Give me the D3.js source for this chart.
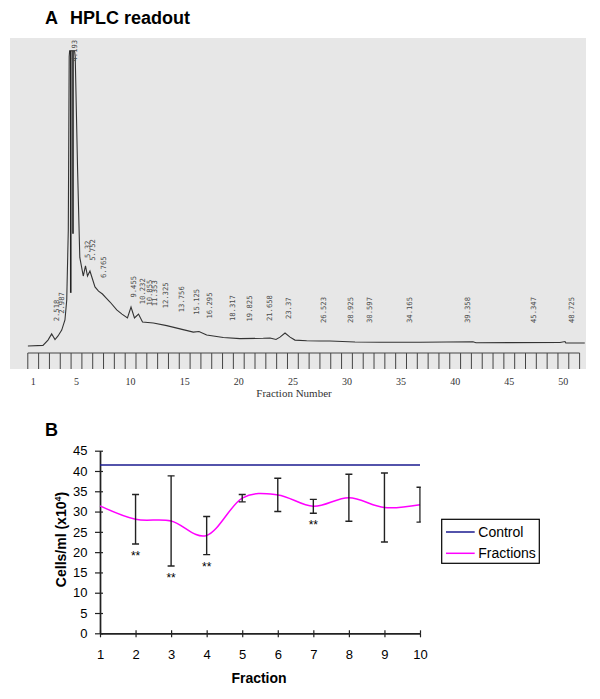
<!DOCTYPE html>
<html><head><meta charset="utf-8">
<script src="https://cdn.jsdelivr.net/npm/d3@7"></script>
<style>body{margin:0;background:#fff}</style>
</head><body>
<svg id="chart" width="600" height="699"></svg>
<script>
// ---------- Panel A: HPLC readout ----------
const traceTime = [0.0,1.35,1.8,2.13,2.43,2.7,3.03,3.32,3.48,3.62,3.70,3.74,4.18,4.24,4.45,4.65,4.96,5.16,5.34,5.56,6.01,6.33,6.68,7.0,7.36,7.96,8.43,8.92,9.24,9.55,9.91,10.27,11.24,12.44,13.63,14.82,15.33,16.02,17.51,19.0,21.09,21.7,22.23,22.59,23.04,23.49,23.93,24.98,26.17,27.07,29.31,31.55,35.13,39.88,40.15,47.68,48.13,48.2,49.9];
const traceSignal = [0,0.2,2.0,4.1,2.2,3.4,5.4,8.8,15.6,39.3,98,100,100,98,60,30,23.7,27.1,23.7,25.4,20,18.6,17.6,16.3,14.9,12.2,10.8,9.5,13.2,9.5,10.8,8.1,7.8,6.9,5.8,4.7,4.9,3.7,2.9,2.5,2.6,2.7,2.2,3.0,4.4,3.0,2.0,1.8,1.7,1.7,1.35,1.25,1.25,1.45,1.1,1.2,1.5,1.0,1.0];
const peakLabels = ["2.518","2.987","4.193","5.32","5.752","6.765","9.455","10.232","10.855","11.353","12.325","13.756","15.125","16.295","18.317","19.825","21.658","23.37","26.523","28.925","30.597","34.165","39.358","45.347","48.725"];
const markerTimes = [3.84, 4.04];
const markerBottoms = [18, 38];
const rulerLabels = [1,5,10,15,20,25,30,35,40,45,50];
const rulerCount = 51;

// ---------- Panel B: cell counts ----------
const fractions = [1,2,3,4,5,6,7,8,9,10];
const controlValue = 41.5;
const fractionMeans = [31.4,28.1,27.7,24.1,33.3,34.1,31.3,33.4,31.0,31.7];
const fractionSD = [0,6.1,11.1,4.7,0.9,4.1,1.7,5.8,8.5,4.3];
const significant = [2,3,4,7];
const yTicks = [0,5,10,15,20,25,30,35,40,45];

const svg = d3.select("#chart");
const sans = "'Liberation Sans', Arial, sans-serif";

// ===== Panel A =====
svg.append("text").attr("x",45).attr("y",24).attr("font-family",sans)
  .attr("font-weight","bold").attr("font-size",18).attr("fill","#000").text("A");
svg.append("text").attr("x",70).attr("y",24).attr("font-family",sans)
  .attr("font-weight","bold").attr("font-size",18).attr("fill","#000").text("HPLC readout");

const scan = {x0:10, x1:586, y0:38, y1:369};
svg.append("rect").attr("x",scan.x0).attr("y",scan.y0)
  .attr("width",scan.x1-scan.x0).attr("height",scan.y1-scan.y0).attr("fill","#e7e7e7");

const xT = d3.scaleLinear().domain([0,50]).range([27.9,585.9]);
const yS = d3.scaleLinear().domain([0,100]).range([346,50.7]);
const interp = d3.scaleLinear().domain(traceTime).range(traceSignal);

const gA = svg.append("g");
gA.append("path")
  .attr("d", d3.line().x((d,i)=>xT(traceTime[i])).y((d,i)=>yS(traceSignal[i]))(traceTime))
  .attr("fill","none").attr("stroke","#333").attr("stroke-width",1.1);

markerTimes.forEach((t,i)=>{
  gA.append("line").attr("x1",xT(t)).attr("x2",xT(t))
    .attr("y1",yS(100)).attr("y2",yS(markerBottoms[i]))
    .attr("stroke","#222").attr("stroke-width",1.6);
});

gA.selectAll("text.peak").data(peakLabels).join("text").attr("class","peak")
  .attr("font-family","'DejaVu Sans Mono', monospace").attr("font-size",7.2)
  .attr("fill","#4a4a4a").attr("dominant-baseline","central")
  .attr("transform", d=>{
    const t = +d;
    const len = d.length*4.3;
    let b = Math.min(yS(interp(t)) - 17, 323);
    b = Math.max(b, scan.y0 + 2 + len);
    return `translate(${xT(t)},${b}) rotate(-90)`;
  })
  .text(d=>d);

// ruler
const xF = d3.scaleLinear().domain([0.5,51.5]).range([27.8,579.6]);
const rulerTop = 353, rulerBottom = 369;
gA.append("line").attr("x1",xF(0.5)).attr("x2",xF(rulerCount+0.5))
  .attr("y1",rulerTop).attr("y2",rulerTop).attr("stroke","#444").attr("stroke-width",1);
gA.selectAll("line.rt").data(d3.range(0.5, rulerCount+1, 1)).join("line").attr("class","rt")
  .attr("x1",d=>xF(d)).attr("x2",d=>xF(d)).attr("y1",rulerTop).attr("y2",rulerBottom)
  .attr("stroke","#444").attr("stroke-width",1);
gA.selectAll("text.rl").data(rulerLabels).join("text").attr("class","rl")
  .attr("x",d=>xF(d)).attr("y",384.5).attr("text-anchor","middle")
  .attr("font-family","'Liberation Serif', 'Times New Roman', serif").attr("font-size",10)
  .attr("fill","#333").text(d=>d);
gA.append("text").attr("x",294).attr("y",396.5).attr("text-anchor","middle")
  .attr("font-family","'Liberation Serif', 'Times New Roman', serif").attr("font-size",11)
  .attr("fill","#333").text("Fraction Number");

// ===== Panel B =====
svg.append("text").attr("x",45).attr("y",436).attr("font-family",sans)
  .attr("font-weight","bold").attr("font-size",18).attr("fill","#000").text("B");

const x = d3.scaleLinear().domain([1,10]).range([100,420]);
const y = d3.scaleLinear().domain([0,45]).range([633.3,450.7]);
const gB = svg.append("g");

// axes
const axCol = "#222";
const yAxOut = gB.append("g").attr("transform","translate(100,0)")
  .call(d3.axisLeft(y).tickValues(yTicks).tickSizeInner(5).tickSizeOuter(0).tickPadding(7.5));
const yAxIn = gB.append("g").attr("transform","translate(100,0)")
  .call(d3.axisLeft(y).tickValues(yTicks).tickSizeInner(-3).tickSizeOuter(0).tickFormat(""));
const xAxOut = gB.append("g").attr("transform","translate(0,633.3)")
  .call(d3.axisBottom(x).tickValues(fractions).tickSizeInner(4).tickSizeOuter(0).tickPadding(12).tickFormat(d3.format("d")));
const xAxIn = gB.append("g").attr("transform","translate(0,633.3)")
  .call(d3.axisBottom(x).tickValues(fractions).tickSizeInner(-3).tickSizeOuter(0).tickFormat(""));
[yAxOut,yAxIn,xAxOut,xAxIn].forEach(a=>{
  a.selectAll("path").attr("stroke",axCol).attr("stroke-width",1.4);
  a.selectAll("line").attr("stroke",axCol).attr("stroke-width",1.2);
  a.selectAll("text").attr("font-family",sans).attr("font-size",13).attr("fill","#000");
});

// clip
svg.append("clipPath").attr("id","plotClip").append("rect")
  .attr("x",x.range()[0]).attr("y",y.range()[1]-20)
  .attr("width",x.range()[1]-x.range()[0]+0.8).attr("height",y.range()[0]-y.range()[1]+20);

// control line
gB.append("line").attr("x1",x(1)).attr("x2",x(10))
  .attr("y1",y(controlValue)).attr("y2",y(controlValue))
  .attr("stroke","#1a1a8f").attr("stroke-width",1.5);

// fractions line
gB.append("path")
  .attr("d", d3.line().curve(d3.curveCardinal.tension(0))
    .x((d,i)=>x(fractions[i])).y((d,i)=>y(fractionMeans[i]))(fractions))
  .attr("fill","none").attr("stroke","#ff00ff").attr("stroke-width",1.5);

// error bars
const eb = gB.append("g").attr("clip-path","url(#plotClip)");
fractions.forEach((f,i)=>{
  if(!fractionSD[i]) return;
  const hi = y(fractionMeans[i]+fractionSD[i]), lo = y(fractionMeans[i]-fractionSD[i]), cx = x(f);
  eb.append("line").attr("x1",cx).attr("x2",cx).attr("y1",hi).attr("y2",lo)
    .attr("stroke","#222").attr("stroke-width",1.4);
  [hi,lo].forEach(v=>eb.append("line").attr("x1",cx-3.5).attr("x2",cx+3.5)
    .attr("y1",v).attr("y2",v).attr("stroke","#222").attr("stroke-width",1.4));
});

// significance
gB.selectAll("text.sig").data(significant).join("text").attr("class","sig")
  .attr("x",f=>x(f)).attr("y",f=>{const i=fractions.indexOf(f);return y(fractionMeans[i]-fractionSD[i])+16;})
  .attr("text-anchor","middle").attr("font-family",sans).attr("font-size",12).attr("fill","#000")
  .text("**");

// axis titles
const yl = gB.append("text").attr("transform","translate(65.5,539.5) rotate(-90)")
  .attr("text-anchor","middle").attr("font-family",sans).attr("font-weight","bold")
  .attr("font-size",14).attr("fill","#000");
yl.append("tspan").text("Cells/ml (x10");
yl.append("tspan").attr("dy",-5).attr("font-size",9).text("4");
yl.append("tspan").attr("dy",5).text(")");
gB.append("text").attr("x",259).attr("y",682.7).attr("text-anchor","middle")
  .attr("font-family",sans).attr("font-weight","bold").attr("font-size",14).attr("fill","#000")
  .text("Fraction");

// legend
const leg = gB.append("g");
leg.append("rect").attr("x",441.7).attr("y",519.3).attr("width",97.6).attr("height",44)
  .attr("fill","#fff").attr("stroke","#000").attr("stroke-width",1.2);
const legItems = [{name:"Control",color:"#1a1a8f"},{name:"Fractions",color:"#ff00ff"}];
legItems.forEach((d,i)=>{
  const ly = 532 + i*21.3;
  leg.append("line").attr("x1",446).attr("x2",474.7).attr("y1",ly).attr("y2",ly)
    .attr("stroke",d.color).attr("stroke-width",1.5);
  leg.append("text").attr("x",478.3).attr("y",ly+4.5).attr("font-family",sans)
    .attr("font-size",14).attr("fill","#000").text(d.name);
});
</script>
</body></html>
